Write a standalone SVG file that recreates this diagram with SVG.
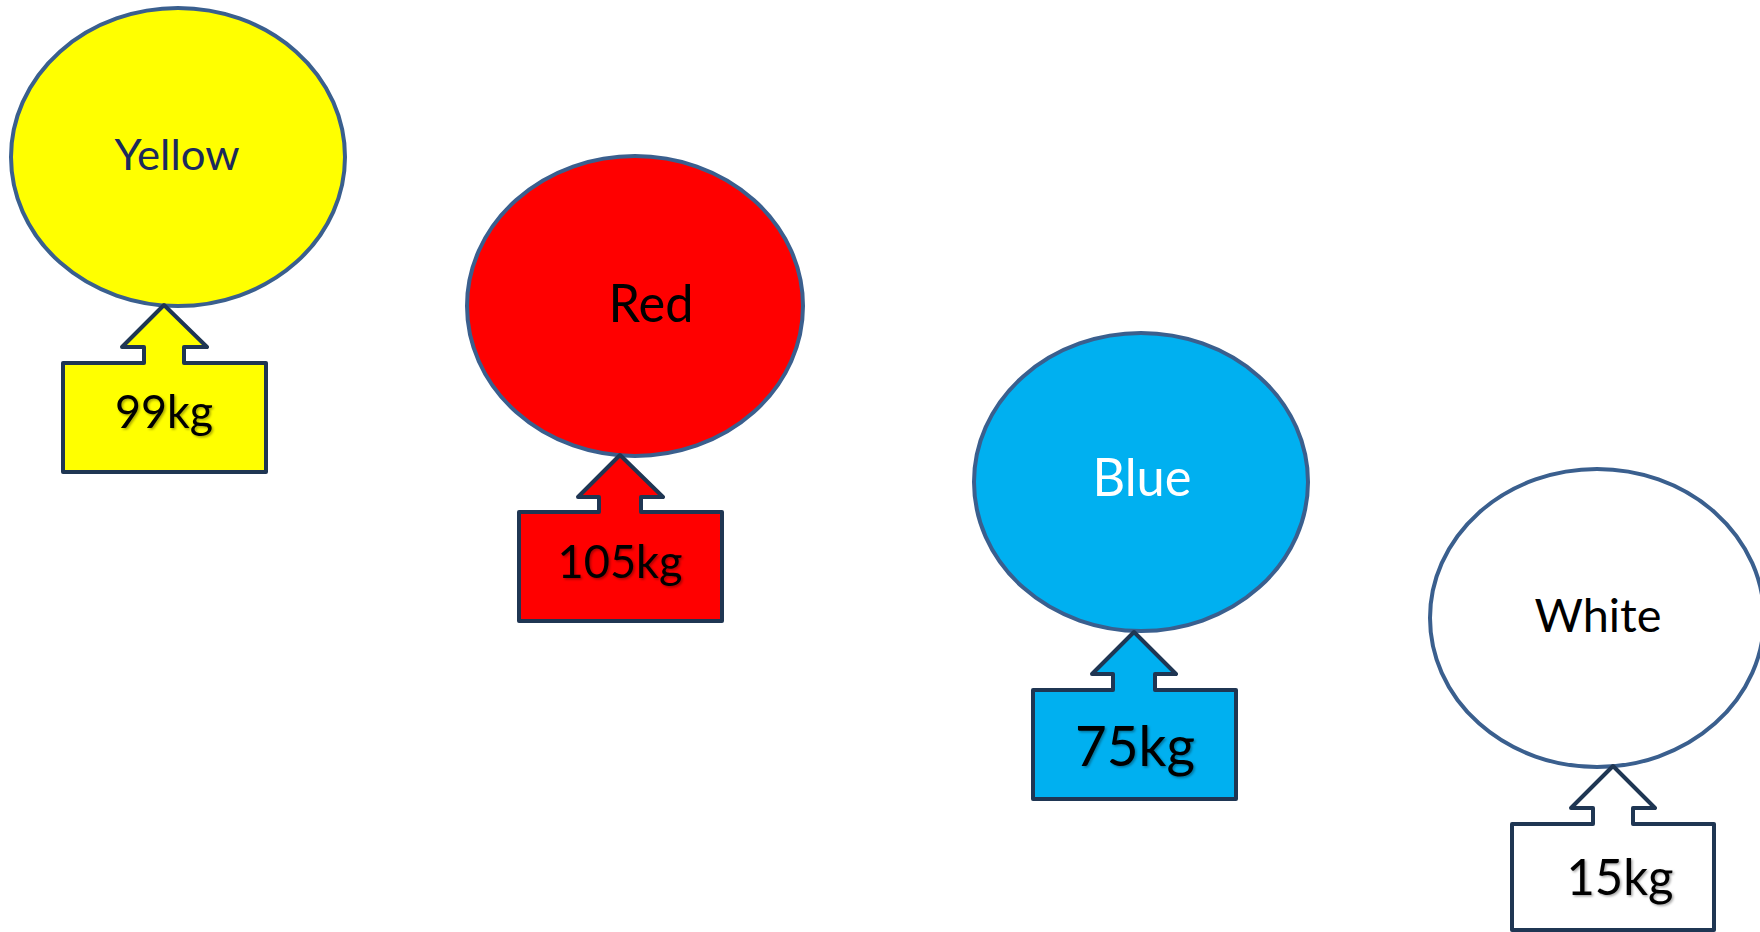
<svg xmlns="http://www.w3.org/2000/svg" width="1760" height="932" viewBox="0 0 1760 932">
<style>
.ell{stroke:#3A5F8E;stroke-width:4}
.call{stroke:#1F3653;stroke-width:4;stroke-linejoin:round}
.lbl{font-family:Lato,"Open Sans","Liberation Sans",sans-serif;text-anchor:middle}
.kg{font-family:Lato,"Open Sans","Liberation Sans",sans-serif;text-anchor:middle;fill:#000;filter:url(#sh)}
</style>
<defs>
<filter id="sh" x="-20%" y="-30%" width="140%" height="160%">
<feDropShadow dx="1.5" dy="1.5" stdDeviation="1" flood-color="#000" flood-opacity="0.35"/>
</filter>
</defs>
<rect width="1760" height="932" fill="#fff"/>
<g id="yellow">
<ellipse class="ell" cx="178" cy="157" rx="167" ry="149" fill="#FFFF00"/>
<text class="lbl" x="177" y="170" font-size="43" fill="#1B2A5C" textLength="125" lengthAdjust="spacingAndGlyphs">Yellow</text>
</g>
<g id="red">
<ellipse class="ell" cx="635" cy="306" rx="168" ry="150" fill="#FF0000"/>
<text class="lbl" x="651" y="322" font-size="53" fill="#000" textLength="85" lengthAdjust="spacingAndGlyphs">Red</text>
</g>
<g id="blue">
<ellipse class="ell" cx="1141" cy="482" rx="167" ry="149" fill="#00B0F0"/>
<text class="lbl" x="1142" y="496" font-size="52" fill="#fff" textLength="99" lengthAdjust="spacingAndGlyphs">Blue</text>
</g>
<g id="white">
<ellipse class="ell" cx="1597" cy="618" rx="167" ry="149" fill="#fff"/>
<text class="lbl" x="1598" y="632" font-size="46" fill="#000" textLength="127" lengthAdjust="spacingAndGlyphs">White</text>
</g>
<g id="connectors">
<g id="yellow-weight">
<path class="call" fill="#FFFF00" d="M63,363 H144 V347 H122 L164,305 L207,347 H184 V363 H266 V472 H63 Z"/>
<text class="kg" x="164" y="428" font-size="46" textLength="98" lengthAdjust="spacingAndGlyphs">99kg</text>
</g>
<g id="red-weight">
<path class="call" fill="#FF0000" d="M519,512 H599 V497 H578 L620,455 L663,497 H641 V512 H722 V621 H519 Z"/>
<text class="kg" x="620" y="578" font-size="46" textLength="125" lengthAdjust="spacingAndGlyphs">105kg</text>
</g>
<g id="blue-weight">
<path class="call" fill="#00B0F0" d="M1033,690 H1113 V674 H1092 L1134,632 L1176,674 H1155 V690 H1236 V799 H1033 Z"/>
<text class="kg" x="1135" y="766" font-size="56" textLength="120" lengthAdjust="spacingAndGlyphs">75kg</text>
</g>
<g id="white-weight">
<path class="call" fill="#fff" d="M1512,824 H1593 V808 H1571 L1613,766 L1655,808 H1633 V824 H1714 V930 H1512 Z"/>
<text class="kg" x="1620" y="895" font-size="51" textLength="107" lengthAdjust="spacingAndGlyphs">15kg</text>
</g>
</g>
</svg>
